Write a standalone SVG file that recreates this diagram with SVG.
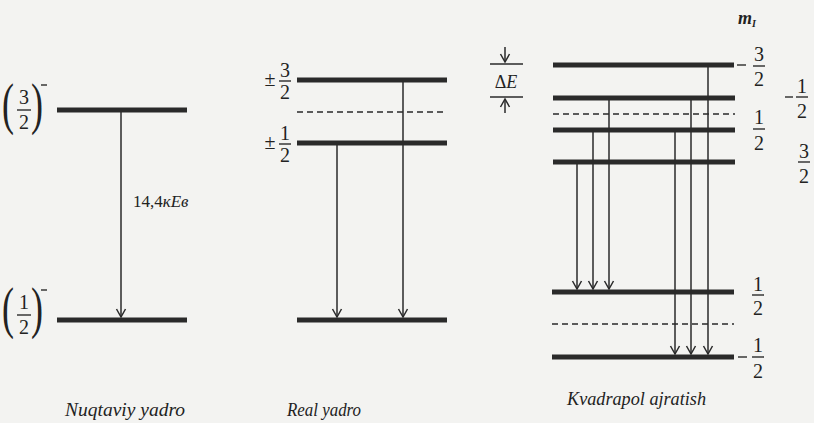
<svg xmlns="http://www.w3.org/2000/svg" width="814" height="423" viewBox="0 0 814 423" font-family="'Liberation Serif', 'Times New Roman', serif">
<style>
.lvl{stroke:#2a2a2a;stroke-width:5;fill:none}
.dash{stroke:#2a2a2a;stroke-width:1.6;stroke-dasharray:6,4;fill:none}
.ar{stroke:#2a2a2a;stroke-width:1.5;fill:none}
.bar{stroke:#2a2a2a;stroke-width:1.4}
text{font-family:'Liberation Serif','Times New Roman',serif;fill:#222}
.n{font-size:20px;text-anchor:middle}
.cap{font-size:18px;font-style:italic}
.par{font-size:58px}
</style>
<defs>
<marker id="ah" viewBox="-10 -6 12 12" refX="0" refY="0" markerWidth="12" markerHeight="12" markerUnits="userSpaceOnUse" orient="auto">
<path d="M-8,-4.5 L0,0 L-8,4.5" stroke="#2a2a2a" stroke-width="1.5" fill="none"/>
</marker>
</defs>
<rect width="814" height="423" fill="#f3f3f1"/>

<g id="point-nucleus">
<line class="lvl" x1="57" y1="110" x2="187" y2="110"/>
<line class="lvl" x1="57" y1="320" x2="187" y2="320"/>
<text class="par" transform="translate(2,123) scale(0.62,1)">(</text>
<text class="par" transform="translate(31,123) scale(0.62,1)">)</text>
<text class="par" transform="translate(2,327) scale(0.62,1)">(</text>
<text class="par" transform="translate(31,327) scale(0.62,1)">)</text>
<g class="n">
<text x="24" y="104">3</text>
<text x="24" y="129">2</text>
<text x="24" y="309">1</text>
<text x="24" y="334">2</text>
</g>
<line class="bar" x1="17" y1="110" x2="31" y2="110"/>
<line class="bar" x1="17" y1="315" x2="31" y2="315"/>
<line class="bar" x1="41" y1="85" x2="47" y2="85"/>
<line class="bar" x1="41" y1="290" x2="47" y2="290"/>
</g>

<g id="real-nucleus">
<line class="lvl" x1="297" y1="80" x2="447" y2="80"/>
<line class="dash" x1="297" y1="112" x2="447" y2="112"/>
<line class="lvl" x1="297" y1="143" x2="447" y2="143"/>
<line class="lvl" x1="297" y1="320" x2="447" y2="320"/>
<g class="n">
<text x="270" y="86">±</text>
<text x="285" y="77">3</text>
<text x="285" y="99">2</text>
<text x="270" y="149">±</text>
<text x="285" y="140">1</text>
<text x="285" y="162">2</text>
</g>
<line class="bar" x1="279" y1="81" x2="291" y2="81"/>
<line class="bar" x1="279" y1="144" x2="291" y2="144"/>
</g>

<g id="quadrupole-splitting">
<line class="lvl" x1="553" y1="65" x2="734" y2="65"/>
<line class="lvl" x1="553" y1="98" x2="735" y2="98"/>
<line class="dash" x1="553" y1="114" x2="735" y2="114"/>
<line class="lvl" x1="553" y1="130" x2="735" y2="130"/>
<line class="lvl" x1="553" y1="162" x2="735" y2="162"/>
<line class="lvl" x1="552" y1="292" x2="734" y2="292"/>
<line class="dash" x1="552" y1="324" x2="734" y2="324"/>
<line class="lvl" x1="552" y1="357" x2="734" y2="357"/>
<g class="n">
<text x="759" y="61">3</text>
<text x="759" y="86">2</text>
<text x="802" y="93">1</text>
<text x="802" y="118">2</text>
<text x="759" y="124">1</text>
<text x="759" y="150">2</text>
<text x="804" y="158">3</text>
<text x="804" y="183">2</text>
<text x="758" y="291">1</text>
<text x="758" y="315">2</text>
<text x="758" y="352">1</text>
<text x="758" y="378">2</text>
</g>
<line class="bar" x1="753" y1="66" x2="765" y2="66"/>
<line class="bar" x1="737" y1="65" x2="746" y2="65"/>
<line class="bar" x1="796" y1="97" x2="808" y2="97"/>
<line class="bar" x1="785" y1="97" x2="793" y2="97"/>
<line class="bar" x1="753" y1="129" x2="765" y2="129"/>
<line class="bar" x1="798" y1="162" x2="810" y2="162"/>
<line class="bar" x1="752" y1="295" x2="764" y2="295"/>
<line class="bar" x1="752" y1="357" x2="764" y2="357"/>
<line class="bar" x1="738" y1="357" x2="747" y2="357"/>
<text x="738" y="24" font-size="18" font-style="italic" font-weight="bold">m<tspan font-size="10" dy="3">I</tspan></text>
<line class="bar" x1="490" y1="64" x2="523" y2="64"/>
<line class="bar" x1="490" y1="97" x2="523" y2="97"/>
<line class="ar" x1="505" y1="47" x2="505" y2="62" marker-end="url(#ah)"/>
<line class="ar" x1="505" y1="113" x2="505" y2="99" marker-end="url(#ah)"/>
<text x="506" y="88" font-size="18" text-anchor="middle">Δ<tspan font-style="italic">E</tspan></text>
</g>

<g id="connectors">
<line class="ar" x1="121" y1="112" x2="121" y2="317" marker-end="url(#ah)"/>
<line class="ar" x1="403" y1="82" x2="403" y2="317" marker-end="url(#ah)"/>
<line class="ar" x1="337" y1="145" x2="337" y2="317" marker-end="url(#ah)"/>
<line class="ar" x1="577" y1="164" x2="577" y2="289" marker-end="url(#ah)"/>
<line class="ar" x1="593" y1="132" x2="593" y2="289" marker-end="url(#ah)"/>
<line class="ar" x1="609" y1="100" x2="609" y2="289" marker-end="url(#ah)"/>
<line class="ar" x1="675" y1="132" x2="675" y2="354" marker-end="url(#ah)"/>
<line class="ar" x1="691" y1="100" x2="691" y2="354" marker-end="url(#ah)"/>
<line class="ar" x1="708" y1="67" x2="708" y2="354" marker-end="url(#ah)"/>
</g>

<g id="labels">
<text x="133" y="207" font-size="17">14,4<tspan font-style="italic">кEв</tspan></text>
<text class="cap" x="65" y="416" textLength="120" lengthAdjust="spacingAndGlyphs">Nuqtaviy yadro</text>
<text class="cap" x="287" y="416" textLength="74" lengthAdjust="spacingAndGlyphs">Real yadro</text>
<text class="cap" x="567" y="405" textLength="139" lengthAdjust="spacingAndGlyphs">Kvadrapol ajratish</text>
</g>
</svg>
